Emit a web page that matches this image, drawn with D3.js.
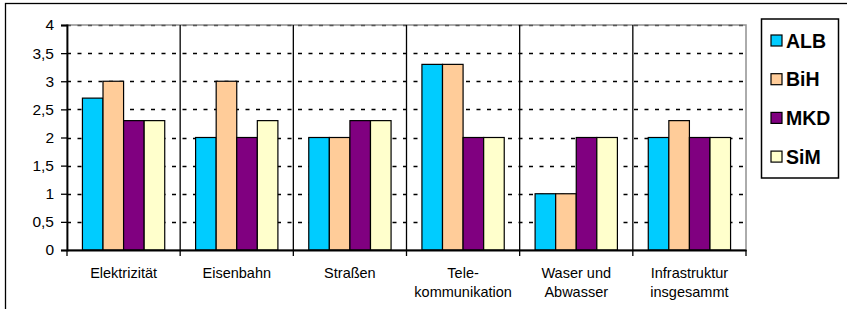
<!DOCTYPE html>
<html><head><meta charset="utf-8">
<script src="https://cdn.jsdelivr.net/npm/d3@7"></script>
<style>body{margin:0;background:#fff}svg{display:block}text{font-family:"Liberation Sans",Arial,sans-serif}</style>
</head><body>
<svg id="c" width="847" height="309"></svg>
<script>
const categories = [["Elektrizität"],["Eisenbahn"],["Straßen"],["Tele-","kommunikation"],["Waser und","Abwasser"],["Infrastruktur","insgesammt"]];
const seriesNames = ["ALB","BiH","MKD","SiM"];
const seriesColors = ["#00CCFF","#FFCC99","#800080","#FFFFCC"];
const ALB = [2.7, 2, 2, 3.3, 1, 2];
const BiH = [3, 3, 2, 3.3, 1, 2.3];
const MKD = [2.3, 2, 2.3, 2, 2, 2];
const SiM = [2.3, 2.3, 2.3, 2, 2, 2];
const yTicks = [0,0.5,1,1.5,2,2.5,3,3.5,4];

const values = [ALB,BiH,MKD,SiM];
const svg = d3.select("#c");
const L=67, R=746, T=25, B=250;
const catKeys = categories.map((c,i)=>i);
const x = d3.scaleBand().domain(catKeys).range([L,R]).padding(0);
const step = x.bandwidth();
const bw = step/5.5;
const xs = d3.scaleBand().domain(seriesNames).range([0.75*bw, 4.75*bw]).padding(0);
const y = d3.scaleLinear().domain([0,4]).range([B,T]);
const fmt = v => String(v).replace(".", ",");

// outer frame (left & top visible)
svg.append("rect").attr("x",5.5).attr("y",3.5).attr("width",900).attr("height",400)
  .attr("fill","none").attr("stroke","#000").attr("stroke-width",1.3);

// plot border gray
svg.append("rect").attr("x",L).attr("y",T).attr("width",R-L).attr("height",B-T)
  .attr("fill","none").attr("stroke","#909090").attr("stroke-width",1.5);

// dashed gridlines
svg.append("g").selectAll("line").data(yTicks.filter(v=>v>0)).join("line")
  .attr("x1",L).attr("x2",R).attr("y1",d=>Math.round(y(d))+0.5).attr("y2",d=>Math.round(y(d))+0.5)
  .attr("stroke",d=>d===4?"#555":"#000").attr("stroke-width",1.6).attr("stroke-dasharray","4,6.5");

// vertical category separators
const seps = catKeys.slice(1).map(i=>x(i));
svg.append("g").selectAll("line").data(seps).join("line")
  .attr("x1",d=>d).attr("x2",d=>d).attr("y1",T).attr("y2",B)
  .attr("stroke","#000").attr("stroke-width",1.3);

// bars
const g = svg.append("g");
seriesNames.forEach((s,si)=>{
  g.append("g").selectAll("rect").data(values[si]).join("rect")
    .attr("x",(d,i)=>x(i)+xs(s)).attr("width",xs.bandwidth())
    .attr("y",d=>y(d)).attr("height",d=>B-y(d))
    .attr("fill",seriesColors[si]).attr("stroke","#000").attr("stroke-width",1.2);
});

// y axis
const ya = svg.append("g").attr("transform",`translate(${L},0)`)
  .call(d3.axisLeft(y).tickValues(yTicks).tickFormat(fmt).tickSize(6).tickPadding(7));
ya.select(".domain").attr("stroke","#000").attr("stroke-width",1.8);
ya.selectAll(".tick line").attr("stroke","#000").attr("stroke-width",1.3);
ya.selectAll("text").attr("font-size",15.5).attr("fill","#000").style("font-family","Liberation Sans, Arial, sans-serif");

// x axis
const xa = svg.append("g").attr("transform",`translate(0,${B})`)
  .call(d3.axisBottom(x).tickValues([]).tickSizeOuter(0));
xa.select(".domain").attr("stroke","#000").attr("stroke-width",1.8);
const tickPos = catKeys.map(i=>x(i)).concat([R]);
xa.append("g").selectAll("line").data(tickPos).join("line")
  .attr("x1",d=>d).attr("x2",d=>d).attr("y1",0).attr("y2",6)
  .attr("stroke","#000").attr("stroke-width",1.3);
xa.append("g").selectAll("text").data(categories).join("text")
  .attr("x",(d,i)=>x(i)+step/2).attr("y",28).attr("text-anchor","middle")
  .attr("font-size",14.5).attr("fill","#000")
  .each(function(d){
    const t=d3.select(this);
    d.forEach((line,li)=>t.append("tspan").attr("x",t.attr("x")).attr("dy",li===0?0:19).text(line));
  });

// legend
const lg = svg.append("g");
lg.append("rect").attr("x",761.5).attr("y",19).attr("width",77).attr("height",159)
  .attr("fill","#fff").attr("stroke","#000").attr("stroke-width",1.5);
seriesNames.forEach((s,si)=>{
  const cy = 40.5 + si*38.7;
  lg.append("rect").attr("x",771).attr("y",cy-5.5).attr("width",11).attr("height",11)
    .attr("fill",seriesColors[si]).attr("stroke","#000").attr("stroke-width",1.2);
  lg.append("text").attr("x",786).attr("y",cy+7).attr("font-size",19.5).attr("font-weight","bold")
    .attr("fill","#000").text(s);
});
</script>
</body></html>
